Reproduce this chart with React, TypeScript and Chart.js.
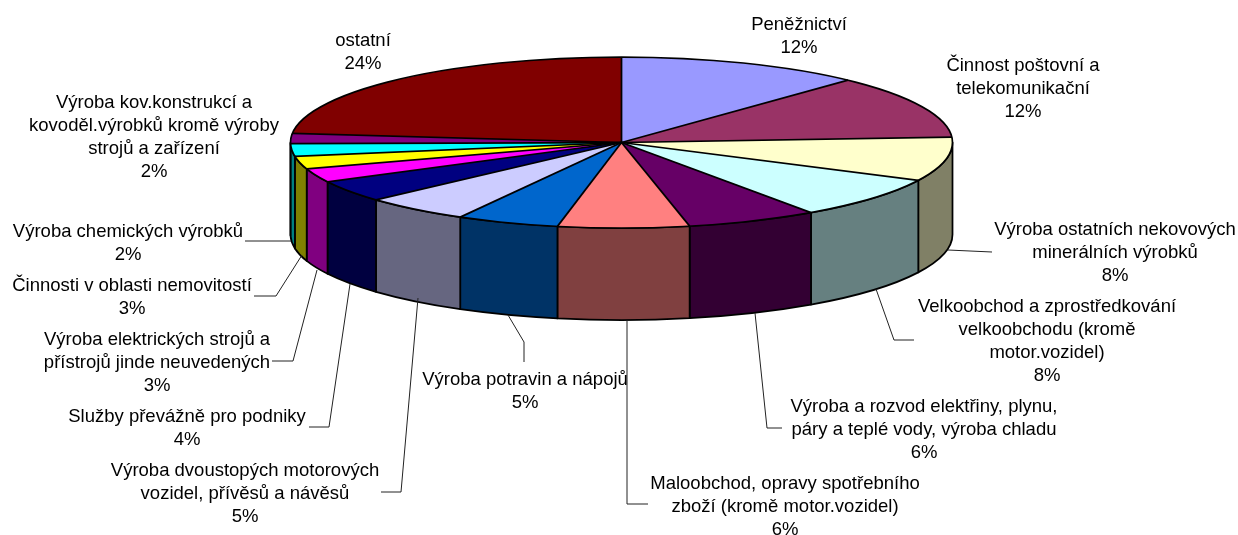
import React, { useEffect, useRef } from "react";
import { Chart, registerables } from "chart.js";

Chart.register(...registerables);

const categories: string[][] = [
  ["Peněžnictví"],
  ["Činnost poštovní a", "telekomunikační"],
  ["Výroba ostatních nekovových", "minerálních výrobků"],
  ["Velkoobchod a zprostředkování", "velkoobchodu (kromě", "motor.vozidel)"],
  ["Výroba a rozvod elektřiny, plynu,", "páry a teplé vody, výroba chladu"],
  ["Maloobchod, opravy spotřebního", "zboží (kromě motor.vozidel)"],
  ["Výroba potravin a nápojů"],
  ["Výroba dvoustopých motorových", "vozidel, přívěsů a návěsů"],
  ["Služby převážně pro podniky"],
  ["Výroba elektrických strojů a", "přístrojů jinde neuvedených"],
  ["Činnosti v oblasti nemovitostí"],
  ["Výroba chemických výrobků"],
  ["Výroba kov.konstrukcí a", "kovoděl.výrobků kromě výroby", "strojů a zařízení"],
  ["ostatní"],
];
// slice sizes as measured on the drawn pie
const values: number[] = [12, 12, 8.3, 8, 6.4, 6.4, 5, 5.2, 4.1, 2.6, 2.4, 2.4, 1.9, 23.3];
// percentages as printed in the labels
const percents: number[] = [12, 12, 8, 8, 6, 6, 5, 5, 4, 3, 3, 2, 2, 24];
const topColors: string[] = [
  "#9999FF", "#993366", "#FFFFCC", "#CCFFFF", "#660066", "#FF8080", "#0066CC",
  "#CCCCFF", "#000080", "#FF00FF", "#FFFF00", "#00FFFF", "#800080", "#800000",
];
const wallColors: string[] = [
  "#4D4D80", "#4D1A33", "#808066", "#668080", "#330033", "#804040", "#003366",
  "#666680", "#000040", "#800080", "#808000", "#008080", "#400040", "#400000",
];

// label layout: centre x and the centre y of the first line
const labelX: number[] = [799, 1023, 1115, 1047, 924, 785, 525, 245, 187, 157, 132, 128, 154, 363];
const labelY: number[] = [25, 66, 230, 307, 406.5, 483.5, 380, 470.5, 417, 340, 286, 232, 103, 41];
// leader lines as [x, y] polylines, one list per label
const leaders: number[][][] = [
  [],
  [],
  [[992, 252], [948, 250]],
  [[914, 340], [894, 340], [876, 289]],
  [[782, 428], [767, 428], [755, 313]],
  [[648, 504], [627, 504], [627, 320]],
  [[524, 362], [524, 342], [508, 315]],
  [[381, 492], [401, 492], [418, 298]],
  [[309, 427], [329, 427], [350, 284]],
  [[272, 361], [293, 361], [317, 270]],
  [[254, 296], [276, 296], [302, 255]],
  [[245, 241], [291, 241]],
  [],
  [],
];

const RADIUS_X = 331;
const RADIUS_Y = 85.5;
const DEPTH = 92;
const LINE_HEIGHT = 23.1;

const pie3d = {
  id: "pie3d",
  beforeDatasetsDraw(chart: any) {
    const ctx = chart.ctx;
    const arcs = chart.getDatasetMeta(0).data;
    const { x, y } = arcs[0];
    ctx.save();
    ctx.lineWidth = 1.75;
    ctx.strokeStyle = "#000";
    ctx.lineJoin = "round";
    arcs.forEach((arc: any, i: number) => {
      const a = Math.max(arc.startAngle, 0);
      const b = Math.min(arc.endAngle, Math.PI);
      if (a >= b) return;
      ctx.beginPath();
      ctx.ellipse(x, y, RADIUS_X, RADIUS_Y, 0, a, b);
      ctx.ellipse(x, y + DEPTH, RADIUS_X, RADIUS_Y, 0, b, a, true);
      ctx.closePath();
      ctx.fillStyle = wallColors[i];
      ctx.fill();
      ctx.stroke();
    });
    ctx.restore();
    ctx.save();
    ctx.translate(0, y);
    ctx.scale(1, RADIUS_Y / RADIUS_X);
    ctx.translate(0, -y);
  },
  afterDatasetsDraw(chart: any) {
    const ctx = chart.ctx;
    ctx.restore();
    const arcs = chart.getDatasetMeta(0).data;
    const { x, y } = arcs[0];
    ctx.save();
    ctx.lineWidth = 1.75;
    ctx.strokeStyle = "#000";
    arcs.forEach((arc: any) => {
      ctx.beginPath();
      ctx.moveTo(x, y);
      ctx.lineTo(x + RADIUS_X * Math.cos(arc.startAngle), y + RADIUS_Y * Math.sin(arc.startAngle));
      ctx.stroke();
    });
    ctx.beginPath();
    ctx.ellipse(x, y, RADIUS_X, RADIUS_Y, 0, 0, Math.PI * 2);
    ctx.stroke();

    ctx.lineWidth = 1;
    ctx.strokeStyle = "#222";
    leaders.forEach((pts) => {
      if (!pts.length) return;
      ctx.beginPath();
      pts.forEach(([px, py], k) => (k ? ctx.lineTo(px, py) : ctx.moveTo(px, py)));
      ctx.stroke();
    });

    ctx.font = '18.5px "Liberation Sans", Arial, sans-serif';
    ctx.fillStyle = "#000";
    ctx.textAlign = "center";
    ctx.textBaseline = "middle";
    categories.forEach((lines, i) => {
      const all = [...lines, `${percents[i]}%`];
      all.forEach((t, k) => ctx.fillText(t, labelX[i], labelY[i] + k * LINE_HEIGHT));
    });
    ctx.restore();
  },
};

export default function App() {
  const ref = useRef<HTMLCanvasElement>(null);
  useEffect(() => {
    const chart = new Chart(ref.current as HTMLCanvasElement, {
      type: "pie",
      data: {
        labels: categories.map((c) => c.join(" ")),
        datasets: [
          {
            data: values,
            backgroundColor: topColors,
            borderWidth: 0,
            clip: false,
          } as any,
        ],
      },
      options: {
        responsive: false,
        animation: false,
        events: [],
        radius: RADIUS_X,
        layout: { padding: { left: 5, right: 0, top: 0, bottom: 250 } },
        plugins: { legend: { display: false }, tooltip: { enabled: false } },
      } as any,
      plugins: [pie3d],
    });
    return () => chart.destroy();
  }, []);
  return (
    <div style={{ position: "absolute", left: 0, top: 0, width: 1238, height: 535 }}>
      <canvas ref={ref} width={1238} height={535} style={{ display: "block" }} />
    </div>
  );
}
